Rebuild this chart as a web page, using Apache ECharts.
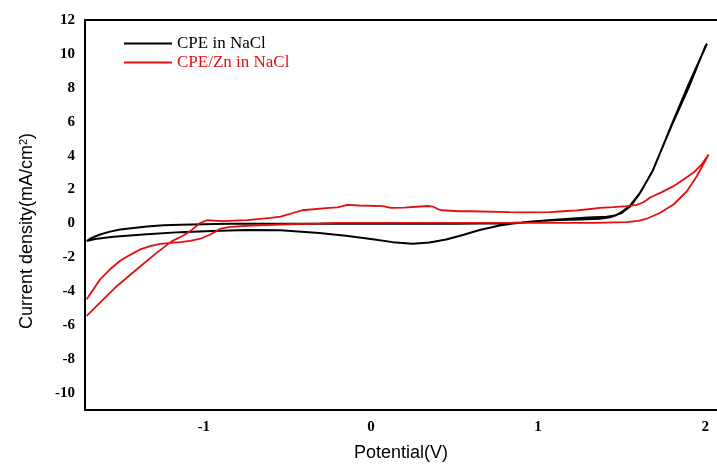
<!DOCTYPE html>
<html lang="en" style="height: 100%">
<head>
  <meta charset="utf-8">
</head>
<body style="height: 100%; margin: 0; background: #fff">
  <div id="container" style="width: 717px; height: 467px"></div>
  <script type="text/javascript" src="https://cdn.jsdelivr.net/npm/echarts@6/dist/echarts.min.js"></script>
  <script type="text/javascript">
    // [potential (V), current density (mA/cm2)]
    var cpeNaCl = [
      [-1.70, -1.04], [-1.67, -0.85], [-1.62, -0.65], [-1.56, -0.48], [-1.50, -0.36],
      [-1.42, -0.26], [-1.34, -0.18], [-1.24, -0.11], [-1.14, -0.07], [-1.00, -0.04],
      [-0.84, -0.02], [-0.50, -0.02], [0.00, -0.02], [0.50, -0.01], [0.80, 0.01],
      [0.90, 0.06], [1.00, 0.14], [1.13, 0.20], [1.25, 0.24], [1.37, 0.28],
      [1.43, 0.36], [1.47, 0.50], [1.50, 0.68], [1.55, 1.05], [1.61, 1.80],
      [1.69, 3.20], [1.81, 6.10], [1.90, 8.20], [2.01, 10.60],
      [2.00, 10.45], [1.90, 8.00], [1.80, 5.80], [1.68, 3.00], [1.60, 1.65],
      [1.55, 1.00], [1.50, 0.62], [1.45, 0.45], [1.41, 0.40], [1.30, 0.35],
      [1.21, 0.30], [1.10, 0.22], [0.97, 0.12], [0.85, 0.00], [0.77, -0.12],
      [0.65, -0.38], [0.55, -0.68], [0.45, -0.95], [0.35, -1.12], [0.25, -1.20],
      [0.13, -1.10], [0.00, -0.92], [-0.15, -0.72], [-0.31, -0.56], [-0.54, -0.40],
      [-0.74, -0.39], [-0.95, -0.45], [-1.14, -0.51], [-1.34, -0.63], [-1.54, -0.78],
      [-1.65, -0.92], [-1.70, -1.04]
    ];
    var cpeZnNaCl = [
      [-1.70, -4.47], [-1.62, -3.30], [-1.56, -2.70], [-1.50, -2.20], [-1.44, -1.85],
      [-1.38, -1.53], [-1.32, -1.33], [-1.26, -1.20], [-1.20, -1.14], [-1.14, -1.10],
      [-1.08, -1.02], [-1.02, -0.90], [-0.96, -0.65], [-0.90, -0.31], [-0.84, -0.20],
      [-0.71, -0.12], [-0.54, -0.06], [-0.30, 0.00], [-0.20, 0.03], [0.50, 0.04],
      [1.00, 0.04], [1.33, 0.04], [1.53, 0.08], [1.60, 0.15], [1.65, 0.28],
      [1.73, 0.63], [1.81, 1.12], [1.89, 1.90], [1.95, 2.80], [2.02, 4.06],
      [1.98, 3.50], [1.93, 3.00], [1.87, 2.60], [1.81, 2.20], [1.74, 1.85],
      [1.67, 1.53], [1.63, 1.25], [1.59, 1.10], [1.53, 1.02], [1.45, 0.96],
      [1.37, 0.92], [1.30, 0.84], [1.23, 0.77], [1.15, 0.72], [1.07, 0.67],
      [0.93, 0.66], [0.83, 0.67], [0.60, 0.72], [0.53, 0.72], [0.42, 0.78],
      [0.40, 0.85], [0.37, 1.00], [0.34, 1.03], [0.20, 0.93], [0.12, 0.92],
      [0.07, 1.02], [-0.07, 1.06], [-0.14, 1.10], [-0.20, 0.95], [-0.25, 0.92],
      [-0.41, 0.78], [-0.54, 0.40], [-0.60, 0.33], [-0.74, 0.20], [-0.89, 0.14],
      [-0.98, 0.19], [-1.02, 0.04], [-1.05, -0.20], [-1.08, -0.45], [-1.13, -0.75],
      [-1.19, -1.04], [-1.28, -1.72], [-1.40, -2.70], [-1.52, -3.70], [-1.62, -4.67],
      [-1.70, -5.45]
    ];
    var xTicks = [-1, 0, 1, 2];
    var yTicks = [-10, -8, -6, -4, -2, 0, 2, 4, 6, 8, 10, 12];
    var seriesNames = ['CPE in NaCl', 'CPE/Zn in NaCl'];
    var seriesColors = ['#000000', '#e01010'];

    var dom = document.getElementById('container');
    var myChart = echarts.init(dom, null, { renderer: 'canvas' });

    var tickFont = {
      fontFamily: '"Liberation Serif", "Times New Roman", serif',
      fontWeight: 'bold',
      fontSize: 15,
      color: '#000'
    };

    var option = {
      animation: false,
      backgroundColor: '#fff',
      grid: { left: 85, top: 20, right: 0, bottom: 55 },
      legend: {
        orient: 'vertical',
        left: 119,
        top: 30,
        icon: 'rect',
        itemWidth: 48,
        itemHeight: 2,
        itemGap: 2,
        data: seriesNames.map(function (n, i) {
          return { name: n, textStyle: { color: seriesColors[i] } };
        }),
        textStyle: {
          fontFamily: '"Liberation Serif", "Times New Roman", serif',
          fontSize: 17,
          lineHeight: 15
        }
      },
      xAxis: [{
        type: 'value',
        min: -1.71,
        max: 2.07,
        name: 'Potential(V)',
        nameLocation: 'middle',
        nameGap: 34,
        nameTextStyle: {
          fontFamily: '"Liberation Sans", Arial, sans-serif',
          fontSize: 18,
          color: '#000'
        },
        axisLine: { onZero: false, lineStyle: { color: '#000', width: 2 } },
        axisTick: { show: false },
        splitLine: { show: false },
        axisLabel: Object.assign({ customValues: xTicks, margin: 10 }, tickFont)
      }, {
        type: 'value',
        position: 'top',
        min: -1.71,
        max: 2.07,
        axisLine: { show: true, onZero: false, lineStyle: { color: '#000', width: 2 } },
        axisTick: { show: false },
        axisLabel: { show: false },
        splitLine: { show: false }
      }],
      yAxis: {
        type: 'value',
        min: -11,
        max: 12,
        name: 'Current density(mA/cm{sup|2})',
        nameLocation: 'middle',
        nameGap: 48,
        nameTextStyle: {
          fontFamily: '"Liberation Sans", Arial, sans-serif',
          fontSize: 18,
          color: '#000',
          padding: [0, 32, 0, 0],
          rich: {
            sup: {
              fontFamily: '"Liberation Sans", Arial, sans-serif',
              fontSize: 11,
              verticalAlign: 'top',
              padding: [0, 0, 8, 0]
            }
          }
        },
        axisLine: { show: true, onZero: false, lineStyle: { color: '#000', width: 2 } },
        axisTick: { show: false },
        splitLine: { show: false },
        axisLabel: Object.assign({ customValues: yTicks, margin: 10 }, tickFont)
      },
      series: [{
        name: seriesNames[0],
        type: 'line',
        data: cpeNaCl,
        showSymbol: false,
        symbol: 'none',
        lineStyle: { color: seriesColors[0], width: 2 },
        itemStyle: { color: seriesColors[0] }
      }, {
        name: seriesNames[1],
        type: 'line',
        data: cpeZnNaCl,
        showSymbol: false,
        symbol: 'none',
        lineStyle: { color: seriesColors[1], width: 1.8 },
        itemStyle: { color: seriesColors[1] }
      }]
    };

    myChart.setOption(option);
    window.addEventListener('resize', myChart.resize);
  </script>
</body>
</html>
